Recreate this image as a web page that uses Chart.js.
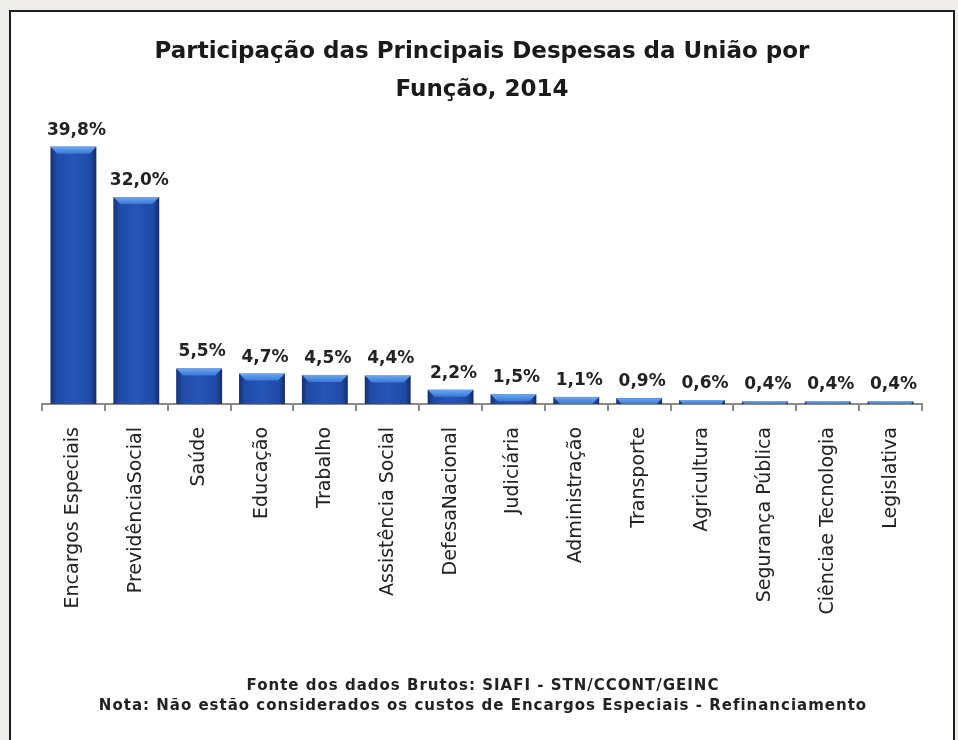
<!DOCTYPE html>
<html>
<head>
<meta charset="utf-8">
<script src="https://cdn.jsdelivr.net/npm/chart.js@4.4.1/dist/chart.umd.min.js"></script>
<style>
  html, body { margin: 0; padding: 0; background: #eeede8; overflow: hidden; }
  .panel { position: absolute; left: 9px; top: 10px; width: 942px; height: 740px; background: #fff; border: 2px solid #1e1e1e; }
  .chart-box { position: absolute; left: 0; top: 0; width: 942px; height: 728px; }
</style>
</head>
<body>
<div class="panel">
  <div class="chart-box"><canvas id="chart"></canvas></div>
</div>
<script>
// dados (% da despesa total)
const categories = ['Encargos Especiais', 'PrevidênciaSocial', 'Saúde', 'Educação', 'Trabalho', 'Assistência Social',
  'DefesaNacional', 'Judiciária', 'Administração', 'Transporte', 'Agricultura', 'Segurança Pública',
  'Ciênciae Tecnologia', 'Legislativa'];
const shares = [39.8, 32.0, 5.5, 4.7, 4.5, 4.4, 2.2, 1.5, 1.1, 0.9, 0.6, 0.4, 0.4, 0.4];
const titleLines = ['Participação das Principais Despesas da União por', 'Função, 2014'];
const footerLines = ['Fonte dos dados Brutos: SIAFI - STN/CCONT/GEINC',
  'Nota: Não estão considerados os custos de Encargos Especiais - Refinanciamento'];

const fmt = v => v.toFixed(1).replace('.', ',') + '%';

// barras com gradiente e chanfro no topo + rótulos de valor
const barStyle = {
  id: 'barStyle',
  afterDatasetsDraw(chart) {
    const ctx = chart.ctx;
    const meta = chart.getDatasetMeta(0);
    meta.data.forEach((bar, i) => {
      const left = bar.x - bar.width / 2, right = bar.x + bar.width / 2;
      const top = bar.y, base = bar.base, h = base - top;
      ctx.save();
      const g = ctx.createLinearGradient(left, 0, right, 0);
      g.addColorStop(0, '#16306f');
      g.addColorStop(0.12, '#1f4aa6');
      g.addColorStop(0.5, '#2656b9');
      g.addColorStop(0.88, '#1f49a3');
      g.addColorStop(1, '#142c68');
      ctx.fillStyle = g;
      ctx.fillRect(left, top, bar.width, h);
      // chanfro do topo
      const bev = Math.min(7, h);
      const gb = ctx.createLinearGradient(0, top, 0, top + bev);
      gb.addColorStop(0, '#6aa8f0');
      gb.addColorStop(1, '#3a78d8');
      ctx.fillStyle = gb;
      ctx.beginPath();
      ctx.moveTo(left, top);
      ctx.lineTo(right, top);
      ctx.lineTo(right - bev, top + bev);
      ctx.lineTo(left + bev, top + bev);
      ctx.closePath();
      ctx.fill();
      // rótulo
      ctx.fillStyle = '#222';
      ctx.font = 'bold 17px "DejaVu Sans"';
      ctx.textAlign = 'center';
      ctx.textBaseline = 'bottom';
      ctx.fillText(fmt(shares[i]), bar.x + 3, top - 8);
      ctx.restore();
    });
  }
};

// rodapé (fonte / nota)
const footer = {
  id: 'footer',
  afterDraw(chart) {
    const ctx = chart.ctx;
    ctx.save();
    ctx.fillStyle = '#222';
    ctx.font = 'bold 15px "DejaVu Sans"';
    ctx.letterSpacing = '1px';
    ctx.textAlign = 'center';
    ctx.textBaseline = 'middle';
    const cx = chart.width / 2;
    footerLines.forEach((t, i) => ctx.fillText(t, cx + 1, 674 + i * 20));
    ctx.restore();
  }
};

const ctx = document.getElementById('chart').getContext('2d');
new Chart(ctx, {
  type: 'bar',
  data: {
    labels: categories,
    datasets: [{ data: shares, backgroundColor: 'rgba(0,0,0,0)', categoryPercentage: 1, barPercentage: 0.73 }]
  },
  options: {
    responsive: true, maintainAspectRatio: false, animation: false,
    layout: { padding: { left: 31, right: 31, top: 0, bottom: 74 } },
    plugins: {
      legend: { display: false },
      tooltip: { enabled: false },
      title: {
        display: true, text: titleLines, color: '#1a1a1a',
        font: { family: 'DejaVu Sans', size: 23, weight: 'bold', lineHeight: '38px' },
        padding: { top: 21, bottom: 4 }
      }
    },
    scales: {
      x: {
        border: { color: '#8a8a8a', width: 2 },
        grid: { drawOnChartArea: false, color: '#8a8a8a', tickLength: 7, lineWidth: 2 },
        ticks: { color: '#222', minRotation: 90, maxRotation: 90, padding: 16, autoSkip: false,
          font: { family: 'DejaVu Sans', size: 19 } },
        afterFit: scale => { scale.height = 262; }
      },
      y: { display: false, min: 0, max: 45 }
    }
  },
  plugins: [barStyle, footer]
});
</script>
</body>
</html>
